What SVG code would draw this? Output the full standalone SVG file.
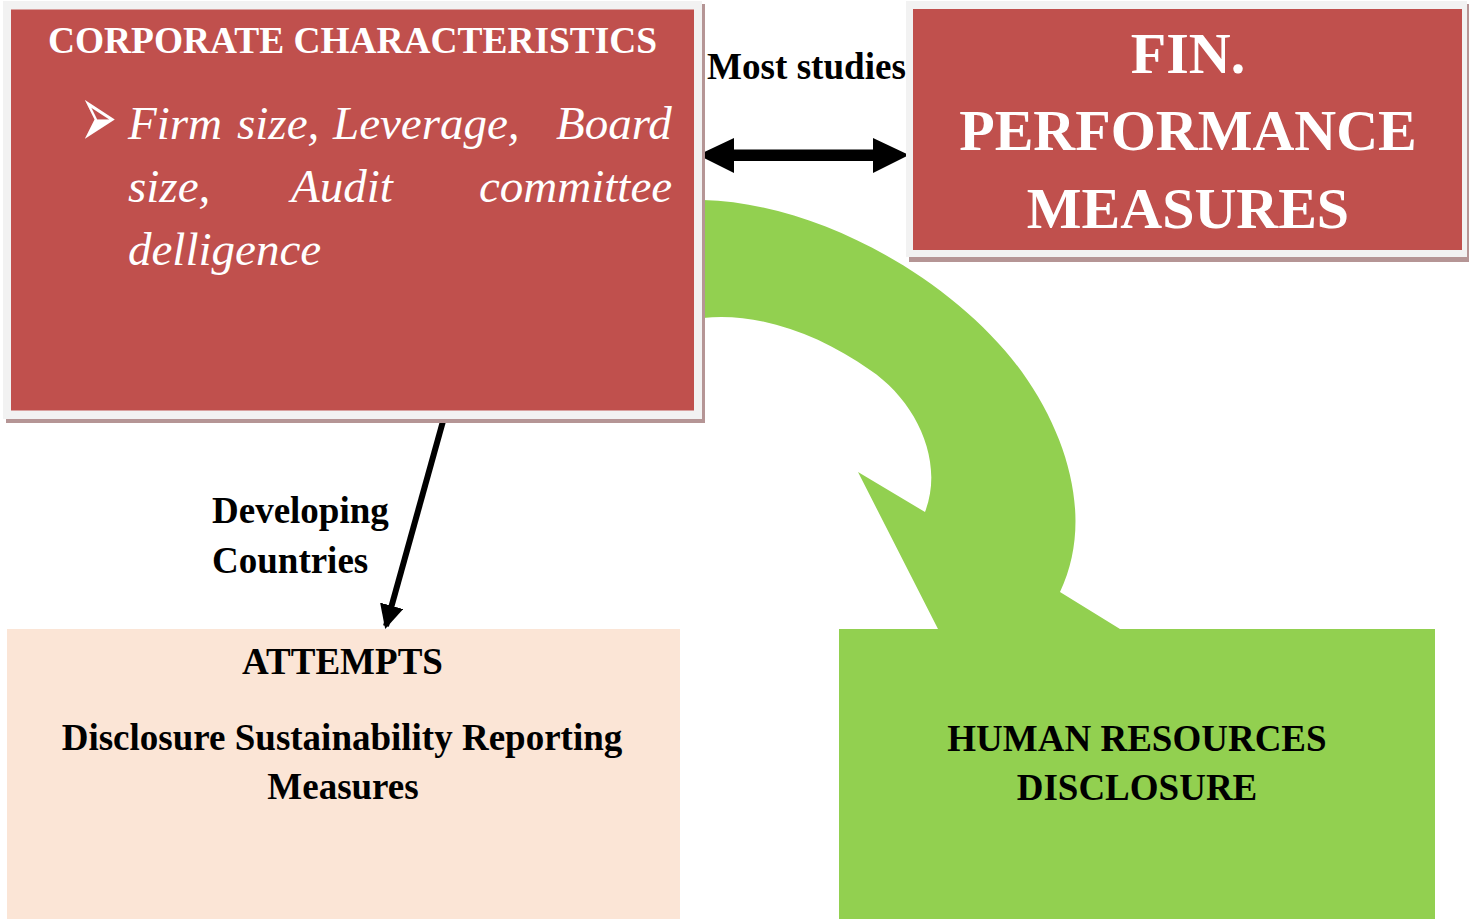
<svg xmlns="http://www.w3.org/2000/svg" width="1469" height="919" viewBox="0 0 1469 919">
  <style>
    .shadow { fill: #b59595; }
    .frame { fill: #f2f2f2; }
    .red { fill: #c0504d; }
    .green { fill: #92d050; }
    .peach { fill: #fbe5d6; }
    .hd { font-family: "Liberation Serif", "Times New Roman", serif; font-weight: bold; }
    .it { font-family: "Liberation Serif", "Times New Roman", serif; font-style: italic; font-size: 47px; fill: #ffffff; }
    .w { fill: #ffffff; }
    .k { fill: #000000; }
  </style>
  <defs>
    <marker id="arrowHead" viewBox="0 0 24 24" refX="21" refY="12" markerWidth="24" markerHeight="24" markerUnits="userSpaceOnUse" orient="auto">
      <path d="M0,0 L24,12 L0,24 Z" fill="#000000"/>
    </marker>
  </defs>

  <rect width="1469" height="919" fill="#ffffff"/>

  <!-- connectors -->
  <g id="connectors">
    <!-- broad curved arrow to the HR disclosure box -->
    <path id="curved-arrow" class="green" d="M703,200 C 820,203 955,280 1022,372 C 1072,442 1092,525 1060,592 L1120,629 L938,629 L858,472 L925,512 C 945,460 915,400 870,370 C 820,335 760,312 703,318 Z"/>
    <!-- two-way arrow between the top boxes -->
    <polygon id="two-way-arrow" class="k" points="698,155 734,138 734,149.5 873,149.5 873,138 909,155 873,173 873,161 734,161 734,173"/>
    <text class="hd k" x="707" y="79" font-size="37" textLength="199" lengthAdjust="spacingAndGlyphs">Most studies</text>
    <!-- arrow down to the attempts box -->
    <line x1="445" y1="414" x2="386" y2="626" stroke="#000000" stroke-width="6" marker-end="url(#arrowHead)"/>
    <text class="hd k" x="212" y="523" font-size="37">Developing</text>
    <text class="hd k" x="212" y="573" font-size="37">Countries</text>
  </g>

  <!-- corporate characteristics -->
  <g id="corporate-characteristics">
    <rect class="shadow" x="6" y="4" width="699" height="419"/>
    <rect class="frame" x="3" y="1" width="699" height="418"/>
    <rect class="red" x="11" y="9.5" width="683" height="401"/>
    <text class="hd w" x="352.5" y="53" font-size="37" text-anchor="middle" textLength="609" lengthAdjust="spacingAndGlyphs">CORPORATE CHARACTERISTICS</text>
    <text transform="translate(80,147) scale(1,2)" font-family="DejaVu Sans, sans-serif" font-size="44" fill="#ffffff">➢</text>
    <text class="it" y="138.5"><tspan x="128">Firm</tspan><tspan x="237">size,</tspan><tspan x="333">Leverage,</tspan><tspan x="556">Board</tspan></text>
    <text class="it" y="202"><tspan x="128">size,</tspan><tspan x="291">Audit</tspan><tspan x="479">committee</tspan></text>
    <text class="it" x="128" y="265">delligence</text>
  </g>

  <!-- financial performance measures -->
  <g id="fin-performance">
    <rect class="shadow" x="909" y="4" width="560" height="258"/>
    <rect class="frame" x="906" y="1" width="561" height="256"/>
    <rect class="red" x="913" y="9" width="549" height="241"/>
    <text class="hd w" x="1188" y="73" font-size="58" text-anchor="middle">FIN.</text>
    <text class="hd w" x="1188" y="150" font-size="58" text-anchor="middle">PERFORMANCE</text>
    <text class="hd w" x="1188" y="228" font-size="58" text-anchor="middle">MEASURES</text>
  </g>

  <!-- attempts -->
  <g id="attempts">
    <rect class="peach" x="7" y="629" width="673" height="290"/>
    <text class="hd k" x="342.5" y="674" font-size="37" text-anchor="middle">ATTEMPTS</text>
    <text class="hd k" x="342" y="750" font-size="37" text-anchor="middle">Disclosure Sustainability Reporting</text>
    <text class="hd k" x="343" y="799" font-size="37" text-anchor="middle">Measures</text>
  </g>

  <!-- human resources disclosure -->
  <g id="hr-disclosure">
    <rect class="green" x="839" y="629" width="596" height="290"/>
    <text class="hd k" x="1137" y="751" font-size="37" text-anchor="middle">HUMAN RESOURCES</text>
    <text class="hd k" x="1137" y="800" font-size="37" text-anchor="middle">DISCLOSURE</text>
  </g>
</svg>
